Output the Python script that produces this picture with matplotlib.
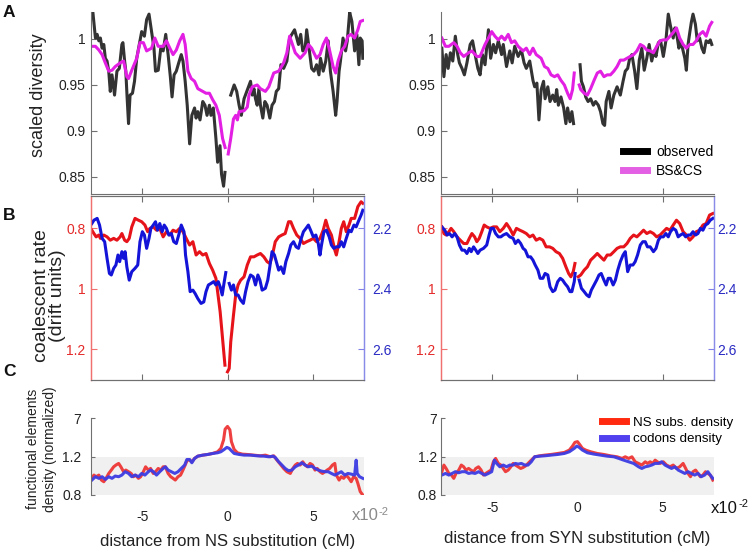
import numpy as np
import matplotlib.pyplot as plt
from matplotlib.lines import Line2D

plt.rcParams['font.family'] = ['Liberation Sans', 'DejaVu Sans']

nan = np.nan

# x = distance from substitution in units of 1e-2 cM; rows are (x, value)
# ---------------- A: scaled diversity ----------------
ns_observed = np.array([
    (-7.95, 1.029), (-7.89, 1.029), (-7.74, 1.001), (-7.64, 1.005), (-7.54, 0.998), (-7.45, 1.001),
    (-7.35, 0.990), (-7.25, 0.994), (-7.16, 0.979), (-7.06, 0.976), (-6.96, 0.965), (-6.87, 0.943),
    (-6.77, 0.961), (-6.62, 0.939), (-6.48, 0.965), (-6.34, 0.968), (-6.19, 0.994), (-6.13, 0.996),
    (-6.03, 0.976), (-5.96, 0.965), (-5.88, 0.935), (-5.80, 0.908), (-5.71, 0.939), (-5.57, 0.941),
    (-5.45, 0.954), (-5.32, 0.979), (-5.03, 1.008), (-4.87, 1.003), (-4.74, 1.021), (-4.60, 1.027),
    (-4.45, 1.008), (-4.31, 0.990), (-4.22, 0.965), (-4.06, 0.966), (-3.91, 0.990), (-3.77, 0.987),
    (-3.62, 1.005), (-3.48, 0.983), (-3.35, 0.959), (-3.25, 0.937), (-3.13, 0.961), (-3.00, 0.965),
    (-2.86, 0.974), (-2.71, 0.983), (-2.61, 0.976), (-2.48, 0.954), (-2.36, 0.928), (-2.22, 0.886),
    (-2.09, 0.917), (-1.93, 0.925), (-1.84, 0.914), (-1.74, 0.921), (-1.61, 0.912), (-1.45, 0.932),
    (-1.32, 0.928), (-1.20, 0.917), (-1.06, 0.928), (-0.97, 0.917), (-0.83, 0.925), (-0.68, 0.892),
    (-0.58, 0.866), (-0.44, 0.884), (-0.35, 0.853), (-0.23, 0.840), (-0.15, 0.855), (0.0, nan),
    (0.19, 0.939), (0.39, 0.950), (0.54, 0.943), (0.68, 0.928), (0.81, 0.917), (0.97, 0.935),
    (1.35, 0.954), (1.45, 0.939), (1.55, 0.946), (1.64, 0.935), (1.74, 0.928), (1.84, 0.946),
    (1.93, 0.928), (2.07, 0.914), (2.19, 0.932), (2.32, 0.928), (2.48, 0.914), (2.61, 0.928),
    (2.75, 0.932), (2.86, 0.943), (3.00, 0.946), (3.13, 0.972), (3.29, 0.968), (3.48, 0.976),
    (3.64, 1.001), (3.93, 1.010), (4.06, 1.001), (4.16, 0.994), (4.29, 1.005), (4.41, 0.987),
    (4.55, 0.990), (4.64, 1.010), (4.80, 0.987), (4.93, 0.968), (5.07, 0.965), (5.22, 0.972),
    (5.36, 0.961), (5.45, 0.979), (5.61, 0.965), (5.76, 0.976), (5.90, 0.998), (6.03, 0.965),
    (6.19, 0.943), (6.34, 0.917), (6.42, 0.932), (6.54, 0.965), (6.62, 0.976), (6.77, 1.001),
    (6.92, 0.987), (7.02, 0.998), (7.16, 1.029), (7.29, 1.019), (7.45, 0.987), (7.58, 1.005),
    (7.70, 0.972), (7.78, 1.001), (7.89, 0.998), (7.93, 0.979)])

ns_model = np.array([
    (-7.95, 0.992), (-7.74, 0.992), (-7.54, 0.988), (-7.35, 0.983), (-7.16, 0.974), (-6.96, 0.965),
    (-6.77, 0.966), (-6.58, 0.970), (-6.29, 0.974), (-6.09, 0.976), (-5.90, 0.959), (-5.80, 0.957),
    (-5.61, 0.966), (-5.32, 0.979), (-5.13, 0.996), (-4.93, 0.996), (-4.74, 0.987), (-4.45, 0.990),
    (-4.26, 1.001), (-4.06, 0.992), (-3.77, 0.992), (-3.58, 0.998), (-3.38, 0.990), (-3.19, 0.983),
    (-3.00, 0.988), (-2.80, 0.998), (-2.61, 1.005), (-2.48, 0.994), (-2.32, 0.965), (-2.13, 0.957),
    (-1.93, 0.954), (-1.74, 0.946), (-1.45, 0.943), (-1.26, 0.941), (-1.06, 0.941), (-0.87, 0.934),
    (-0.68, 0.928), (-0.48, 0.917), (-0.29, 0.892), (-0.14, 0.882), (0.0, nan), (0.04, 0.875),
    (0.19, 0.892), (0.35, 0.913), (0.48, 0.917), (0.58, 0.912), (0.68, 0.921), (0.97, 0.922),
    (1.16, 0.926), (1.26, 0.939), (1.45, 0.948), (1.74, 0.950), (1.93, 0.946), (2.22, 0.943),
    (2.42, 0.948), (2.71, 0.963), (3.00, 0.965), (3.29, 0.974), (3.48, 0.985), (3.64, 1.003),
    (3.77, 0.996), (3.97, 0.985), (4.26, 0.979), (4.55, 0.985), (4.74, 0.994), (4.93, 0.990),
    (5.22, 0.979), (5.42, 0.983), (5.61, 0.994), (5.80, 1.001), (5.99, 0.987), (6.19, 0.970),
    (6.34, 0.963), (6.48, 0.976), (6.67, 0.987), (6.87, 0.992), (7.06, 1.003), (7.25, 1.005),
    (7.45, 1.001), (7.64, 1.010), (7.78, 1.019), (7.93, 1.020)])

syn_observed = np.array([
    (-7.95, 0.990), (-7.83, 0.959), (-7.70, 0.983), (-7.58, 0.968), (-7.45, 0.985), (-7.31, 0.976),
    (-7.16, 1.003), (-7.02, 0.983), (-6.92, 0.974), (-6.77, 0.968), (-6.63, 0.961), (-6.48, 0.974),
    (-6.29, 0.994), (-6.15, 0.998), (-6.00, 0.983), (-5.84, 0.968), (-5.71, 0.961), (-5.57, 0.983),
    (-5.42, 0.972), (-5.22, 1.010), (-5.09, 0.979), (-4.93, 0.994), (-4.80, 0.985), (-4.64, 0.998),
    (-4.45, 0.983), (-4.35, 0.994), (-4.16, 0.970), (-3.97, 0.987), (-3.83, 0.974), (-3.68, 0.992),
    (-3.48, 0.981), (-3.29, 0.988), (-3.13, 0.974), (-3.00, 0.968), (-2.80, 0.976), (-2.61, 0.955),
    (-2.51, 0.948), (-2.38, 0.952), (-2.26, 0.912), (-2.13, 0.945), (-1.99, 0.954), (-1.90, 0.935),
    (-1.74, 0.948), (-1.61, 0.932), (-1.45, 0.939), (-1.32, 0.932), (-1.22, 0.945), (-1.12, 0.928),
    (-0.97, 0.937), (-0.81, 0.925), (-0.68, 0.908), (-0.58, 0.925), (-0.44, 0.910), (-0.33, 0.921),
    (-0.23, 0.908), (0.0, nan), (0.15, 0.972), (0.23, 0.954), (0.35, 0.948), (0.48, 0.937),
    (0.62, 0.932), (0.77, 0.935), (0.93, 0.928), (1.06, 0.932), (1.22, 0.928), (1.35, 0.921),
    (1.49, 0.908), (1.59, 0.906), (1.68, 0.932), (1.84, 0.943), (1.97, 0.925), (2.13, 0.939),
    (2.32, 0.948), (2.51, 0.939), (2.67, 0.954), (2.80, 0.965), (2.94, 0.968), (3.06, 0.979),
    (3.19, 0.983), (3.35, 0.965), (3.48, 0.946), (3.62, 0.977), (3.77, 0.990), (3.91, 0.966),
    (4.06, 0.979), (4.20, 0.994), (4.35, 0.976), (4.49, 0.987), (4.60, 0.981), (4.74, 0.996),
    (4.87, 0.998), (5.03, 0.981), (5.18, 0.998), (5.32, 1.027), (5.45, 1.014), (5.61, 1.001),
    (5.71, 1.012), (5.80, 1.007), (5.94, 0.990), (6.05, 0.998), (6.19, 0.987), (6.29, 0.979),
    (6.38, 0.966), (6.48, 0.994), (6.58, 1.007), (6.67, 1.018), (6.77, 1.027), (6.91, 1.016),
    (7.02, 0.998), (7.16, 1.001), (7.29, 0.990), (7.41, 0.985), (7.54, 0.998), (7.68, 0.996),
    (7.78, 0.999), (7.87, 0.994)])

syn_model = np.array([
    (-7.95, 1.001), (-7.74, 0.992), (-7.54, 0.992), (-7.25, 0.996), (-7.06, 0.992), (-6.87, 0.985),
    (-6.67, 0.981), (-6.38, 0.985), (-6.19, 0.987), (-5.90, 0.981), (-5.71, 0.981), (-5.42, 0.994),
    (-5.22, 1.001), (-5.03, 1.008), (-4.84, 1.003), (-4.64, 0.999), (-4.45, 1.003), (-4.26, 0.999),
    (-4.06, 1.005), (-3.87, 0.996), (-3.68, 0.998), (-3.48, 0.992), (-3.19, 0.987), (-3.00, 0.990),
    (-2.80, 0.983), (-2.61, 0.990), (-2.42, 0.983), (-2.13, 0.979), (-1.93, 0.970), (-1.74, 0.968),
    (-1.55, 0.961), (-1.35, 0.959), (-1.16, 0.961), (-0.97, 0.955), (-0.77, 0.950), (-0.58, 0.941),
    (-0.43, 0.935), (-0.29, 0.945), (-0.19, 0.963), (0.0, nan), (0.10, 0.950), (0.19, 0.945),
    (0.39, 0.941), (0.58, 0.939), (0.77, 0.946), (0.97, 0.955), (1.16, 0.963), (1.35, 0.965),
    (1.55, 0.959), (1.74, 0.961), (1.93, 0.961), (2.13, 0.965), (2.32, 0.970), (2.51, 0.977),
    (2.71, 0.977), (2.90, 0.979), (3.09, 0.981), (3.29, 0.983), (3.48, 0.987), (3.68, 0.994),
    (3.87, 0.992), (4.06, 0.988), (4.26, 0.987), (4.45, 0.985), (4.64, 0.992), (4.84, 0.998),
    (5.03, 0.999), (5.22, 0.999), (5.42, 1.003), (5.61, 1.007), (5.80, 1.012), (5.99, 1.001),
    (6.19, 0.994), (6.38, 0.990), (6.58, 0.994), (6.77, 0.994), (6.96, 0.998), (7.16, 1.005),
    (7.35, 1.008), (7.54, 1.003), (7.74, 1.014), (7.87, 1.018)])

# ---------------- B: coalescent rate (red, left axis) / second estimate (blue, right axis) ----------------
ns_rate_red = np.array([
    (-7.95, 0.807), (-7.83, 0.818), (-7.70, 0.829), (-7.54, 0.823), (-7.45, 0.834), (-7.25, 0.823),
    (-7.06, 0.829), (-6.87, 0.840), (-6.67, 0.834), (-6.48, 0.840), (-6.29, 0.829), (-6.19, 0.818),
    (-6.03, 0.840), (-5.90, 0.845), (-5.76, 0.834), (-5.61, 0.796), (-5.42, 0.768), (-5.22, 0.774),
    (-5.03, 0.779), (-4.84, 0.790), (-4.68, 0.812), (-4.55, 0.801), (-4.35, 0.796), (-4.16, 0.807),
    (-3.97, 0.801), (-3.77, 0.829), (-3.58, 0.812), (-3.38, 0.823), (-3.19, 0.807), (-3.00, 0.812),
    (-2.80, 0.801), (-2.61, 0.812), (-2.42, 0.834), (-2.22, 0.856), (-2.03, 0.845), (-1.84, 0.889),
    (-1.64, 0.878), (-1.45, 0.889), (-1.26, 0.884), (-1.06, 0.917), (-0.87, 0.939), (-0.68, 0.966),
    (-0.58, 1.010), (-0.43, 1.077), (-0.29, 1.165), (-0.15, 1.253), (-0.05, nan), (0.00, 1.275),
    (0.10, 1.264), (0.19, 1.176), (0.35, 1.088), (0.48, 1.021), (0.62, 0.988), (0.77, 0.972),
    (0.97, 0.961), (1.16, 0.922), (1.35, 0.895), (1.55, 0.895), (1.74, 0.889), (1.93, 0.884),
    (2.13, 0.895), (2.32, 0.911), (2.48, 0.917), (2.61, 0.895), (2.80, 0.845), (3.00, 0.829),
    (3.19, 0.823), (3.38, 0.818), (3.58, 0.779), (3.71, 0.779), (3.87, 0.801), (4.06, 0.823),
    (4.26, 0.834), (4.45, 0.851), (4.64, 0.845), (4.84, 0.840), (5.03, 0.834), (5.22, 0.845),
    (5.42, 0.834), (5.61, 0.807), (5.76, 0.774), (5.90, 0.801), (6.09, 0.823), (6.29, 0.873),
    (6.38, 0.889), (6.54, 0.845), (6.67, 0.801), (6.81, 0.779), (6.96, 0.812), (7.12, 0.790),
    (7.25, 0.768), (7.45, 0.768), (7.64, 0.729), (7.83, 0.713), (7.93, 0.718)])

ns_rate_blue = np.array([
    (-7.95, 2.185), (-7.83, 2.174), (-7.64, 2.168), (-7.50, 2.190), (-7.35, 2.234), (-7.20, 2.245),
    (-7.06, 2.300), (-6.92, 2.350), (-6.81, 2.355), (-6.67, 2.333), (-6.54, 2.322), (-6.42, 2.289),
    (-6.32, 2.311), (-6.19, 2.278), (-6.09, 2.300), (-6.00, 2.278), (-5.90, 2.328), (-5.76, 2.372),
    (-5.61, 2.344), (-5.42, 2.333), (-5.26, 2.322), (-5.13, 2.245), (-4.99, 2.212), (-4.87, 2.223),
    (-4.74, 2.267), (-4.60, 2.234), (-4.49, 2.201), (-4.35, 2.190), (-4.22, 2.179), (-4.10, 2.207),
    (-3.97, 2.185), (-3.83, 2.212), (-3.71, 2.190), (-3.58, 2.201), (-3.44, 2.223), (-3.29, 2.218),
    (-3.15, 2.245), (-3.00, 2.251), (-2.86, 2.223), (-2.71, 2.190), (-2.55, 2.212), (-2.46, 2.289),
    (-2.32, 2.344), (-2.19, 2.410), (-2.03, 2.405), (-1.90, 2.416), (-1.74, 2.433), (-1.55, 2.449),
    (-1.39, 2.444), (-1.26, 2.410), (-1.12, 2.388), (-0.97, 2.383), (-0.81, 2.377), (-0.68, 2.388),
    (-0.54, 2.377), (-0.43, 2.394), (-0.31, 2.421), (-0.19, 2.377), (-0.10, 2.347), (0.0, nan),
    (0.10, 2.383), (0.23, 2.405), (0.35, 2.388), (0.48, 2.421), (0.62, 2.421), (0.77, 2.438),
    (0.93, 2.449), (1.06, 2.410), (1.20, 2.377), (1.35, 2.355), (1.51, 2.361), (1.64, 2.388),
    (1.78, 2.355), (1.90, 2.372), (2.03, 2.405), (2.22, 2.399), (2.36, 2.372), (2.48, 2.328),
    (2.61, 2.278), (2.75, 2.289), (2.86, 2.311), (3.00, 2.339), (3.13, 2.328), (3.29, 2.350),
    (3.42, 2.311), (3.58, 2.284), (3.71, 2.256), (3.87, 2.245), (4.02, 2.262), (4.16, 2.267),
    (4.29, 2.240), (4.45, 2.212), (4.60, 2.201), (4.74, 2.190), (4.87, 2.207), (5.03, 2.229),
    (5.18, 2.223), (5.32, 2.251), (5.42, 2.289), (5.51, 2.256), (5.65, 2.212), (5.80, 2.207),
    (5.96, 2.229), (6.09, 2.256), (6.23, 2.267), (6.38, 2.262), (6.54, 2.262), (6.67, 2.245),
    (6.81, 2.262), (6.96, 2.234), (7.12, 2.207), (7.25, 2.212), (7.41, 2.190), (7.54, 2.196),
    (7.70, 2.174), (7.83, 2.157), (7.93, 2.141)])

syn_rate_red = np.array([
    (-7.95, 0.796), (-7.83, 0.818), (-7.70, 0.823), (-7.54, 0.812), (-7.41, 0.801), (-7.25, 0.812),
    (-7.06, 0.829), (-6.87, 0.840), (-6.67, 0.851), (-6.48, 0.851), (-6.34, 0.834), (-6.19, 0.818),
    (-6.03, 0.829), (-5.90, 0.845), (-5.76, 0.834), (-5.61, 0.812), (-5.47, 0.790), (-5.32, 0.796),
    (-5.13, 0.801), (-4.93, 0.796), (-4.74, 0.796), (-4.55, 0.812), (-4.35, 0.801), (-4.16, 0.785),
    (-3.97, 0.801), (-3.77, 0.823), (-3.58, 0.801), (-3.38, 0.807), (-3.19, 0.812), (-3.00, 0.818),
    (-2.80, 0.829), (-2.61, 0.823), (-2.42, 0.840), (-2.22, 0.834), (-2.03, 0.840), (-1.84, 0.862),
    (-1.64, 0.862), (-1.45, 0.867), (-1.26, 0.878), (-1.06, 0.884), (-0.87, 0.900), (-0.68, 0.928),
    (-0.52, 0.950), (-0.39, 0.961), (-0.25, 0.944), (-0.15, 0.917), (0.0, nan), (0.04, 0.961),
    (0.19, 0.955), (0.39, 0.939), (0.58, 0.928), (0.77, 0.906), (0.97, 0.895), (1.16, 0.884),
    (1.35, 0.895), (1.55, 0.906), (1.74, 0.889), (1.93, 0.889), (2.13, 0.878), (2.32, 0.867),
    (2.51, 0.862), (2.71, 0.862), (2.90, 0.851), (3.09, 0.834), (3.29, 0.823), (3.48, 0.829),
    (3.68, 0.818), (3.87, 0.807), (4.06, 0.818), (4.26, 0.812), (4.45, 0.818), (4.64, 0.829),
    (4.84, 0.823), (5.03, 0.812), (5.22, 0.801), (5.42, 0.807), (5.61, 0.790), (5.80, 0.774),
    (5.99, 0.785), (6.19, 0.812), (6.38, 0.823), (6.58, 0.840), (6.77, 0.829), (6.96, 0.812),
    (7.16, 0.807), (7.35, 0.790), (7.54, 0.785), (7.74, 0.757), (7.93, 0.752)])

syn_rate_blue = np.array([
    (-7.95, 2.196), (-7.78, 2.207), (-7.64, 2.223), (-7.50, 2.218), (-7.35, 2.229), (-7.20, 2.218),
    (-7.06, 2.229), (-6.92, 2.256), (-6.77, 2.273), (-6.62, 2.273), (-6.48, 2.284), (-6.34, 2.267),
    (-6.23, 2.278), (-6.09, 2.262), (-5.96, 2.273), (-5.84, 2.284), (-5.71, 2.273), (-5.51, 2.267),
    (-5.32, 2.256), (-5.18, 2.223), (-5.07, 2.201), (-4.93, 2.201), (-4.80, 2.218), (-4.64, 2.229),
    (-4.49, 2.229), (-4.35, 2.223), (-4.16, 2.218), (-3.97, 2.229), (-3.77, 2.234), (-3.64, 2.251),
    (-3.48, 2.240), (-3.33, 2.251), (-3.19, 2.267), (-3.06, 2.273), (-2.90, 2.295), (-2.75, 2.295),
    (-2.61, 2.306), (-2.48, 2.322), (-2.32, 2.339), (-2.19, 2.366), (-2.03, 2.366), (-1.90, 2.350),
    (-1.74, 2.355), (-1.61, 2.394), (-1.45, 2.410), (-1.32, 2.405), (-1.16, 2.377), (-1.01, 2.366),
    (-0.87, 2.372), (-0.74, 2.383), (-0.58, 2.394), (-0.44, 2.410), (-0.33, 2.410), (-0.19, 2.377),
    (-0.14, 2.350), (0.0, nan), (0.10, 2.372), (0.23, 2.399), (0.39, 2.410), (0.54, 2.421),
    (0.68, 2.427), (0.81, 2.405), (0.97, 2.388), (1.12, 2.372), (1.26, 2.355), (1.39, 2.350),
    (1.55, 2.372), (1.68, 2.388), (1.80, 2.366), (1.93, 2.366), (2.09, 2.388), (2.22, 2.372),
    (2.36, 2.339), (2.51, 2.311), (2.67, 2.289), (2.80, 2.278), (2.94, 2.344), (3.09, 2.322),
    (3.25, 2.322), (3.38, 2.311), (3.52, 2.289), (3.68, 2.256), (3.83, 2.245), (3.97, 2.245),
    (4.10, 2.262), (4.26, 2.262), (4.45, 2.278), (4.60, 2.267), (4.74, 2.240), (4.87, 2.229),
    (5.03, 2.229), (5.18, 2.218), (5.32, 2.229), (5.45, 2.212), (5.61, 2.201), (5.76, 2.207),
    (5.90, 2.229), (6.03, 2.223), (6.19, 2.218), (6.34, 2.229), (6.48, 2.223), (6.62, 2.223),
    (6.77, 2.212), (6.92, 2.223), (7.06, 2.218), (7.20, 2.201), (7.35, 2.207), (7.50, 2.190),
    (7.64, 2.185), (7.78, 2.174), (7.93, 2.168)])

# ---------------- C: functional elements density (normalized) ----------------
ns_subs_density = np.array([
    (-7.95, 0.973), (-7.83, 1.007), (-7.70, 0.990), (-7.54, 1.007), (-7.39, 0.955), (-7.25, 0.938),
    (-7.12, 0.973), (-6.96, 1.024), (-6.81, 1.059), (-6.67, 1.093), (-6.54, 1.111), (-6.38, 1.128),
    (-6.25, 1.093), (-6.09, 1.042), (-5.96, 1.059), (-5.80, 1.042), (-5.65, 1.024), (-5.51, 0.990),
    (-5.38, 1.007), (-5.22, 0.973), (-5.09, 0.990), (-4.93, 1.042), (-4.80, 1.093), (-4.64, 1.059),
    (-4.51, 1.076), (-4.35, 1.024), (-4.22, 1.042), (-4.06, 1.076), (-3.91, 1.059), (-3.77, 1.093),
    (-3.64, 1.093), (-3.48, 1.024), (-3.33, 0.990), (-3.19, 0.973), (-3.06, 0.955), (-2.90, 0.990),
    (-2.75, 1.007), (-2.61, 1.059), (-2.48, 1.111), (-2.36, 1.162), (-2.22, 1.162), (-2.09, 1.145),
    (-1.93, 1.180), (-1.74, 1.219), (-1.45, 1.277), (-1.16, 1.317), (-0.87, 1.379), (-0.58, 1.490),
    (-0.39, 1.740), (-0.23, 2.563), (-0.14, 4.201), (0.00, 4.757), (0.14, 4.072), (0.23, 2.370),
    (0.39, 1.660), (0.58, 1.423), (0.87, 1.337), (1.16, 1.317), (1.55, 1.277), (1.93, 1.238),
    (2.22, 1.277), (2.51, 1.197), (2.71, 1.238), (2.90, 1.162), (3.09, 1.121), (3.29, 1.076),
    (3.48, 1.042), (3.68, 1.024), (3.83, 1.076), (3.97, 1.111), (4.10, 1.128), (4.26, 1.111),
    (4.41, 1.145), (4.55, 1.111), (4.68, 1.093), (4.84, 1.128), (4.99, 1.111), (5.13, 1.059),
    (5.26, 1.076), (5.42, 1.042), (5.57, 1.024), (5.71, 1.042), (5.84, 1.059), (5.99, 1.076),
    (6.15, 1.111), (6.29, 1.128), (6.38, 1.007), (6.54, 0.955), (6.67, 0.990), (6.81, 0.973),
    (6.96, 1.007), (7.12, 0.973), (7.25, 0.938), (7.39, 0.990), (7.54, 0.973), (7.64, 0.921),
    (7.78, 0.835), (7.93, 0.800)])

ns_codon_density = np.array([
    (-7.95, 0.955), (-7.74, 0.990), (-7.54, 0.973), (-7.35, 0.990), (-7.16, 0.962), (-6.96, 0.990),
    (-6.77, 0.973), (-6.58, 0.997), (-6.38, 0.990), (-6.19, 1.007), (-6.00, 1.042), (-5.80, 1.024),
    (-5.61, 0.990), (-5.42, 1.007), (-5.22, 0.990), (-5.03, 1.024), (-4.84, 1.007), (-4.64, 1.042),
    (-4.49, 1.059), (-4.35, 1.042), (-4.16, 1.007), (-3.97, 1.042), (-3.77, 1.076), (-3.64, 1.093),
    (-3.48, 1.059), (-3.29, 1.042), (-3.09, 1.024), (-2.90, 1.042), (-2.71, 1.076), (-2.51, 1.111),
    (-2.38, 1.169), (-2.22, 1.169), (-2.09, 1.135), (-1.93, 1.180), (-1.74, 1.219), (-1.45, 1.277),
    (-1.16, 1.317), (-0.87, 1.379), (-0.58, 1.423), (-0.39, 1.490), (-0.19, 1.660), (-0.04, 1.822),
    (0.10, 1.740), (0.23, 1.561), (0.39, 1.379), (0.68, 1.317), (0.97, 1.277), (1.35, 1.277),
    (1.74, 1.238), (2.13, 1.219), (2.42, 1.197), (2.67, 1.219), (2.80, 1.190), (3.00, 1.145),
    (3.19, 1.111), (3.38, 1.076), (3.58, 1.052), (3.77, 1.059), (3.97, 1.093), (4.16, 1.111),
    (4.35, 1.135), (4.55, 1.111), (4.74, 1.093), (4.93, 1.100), (5.13, 1.076), (5.32, 1.059),
    (5.51, 1.048), (5.71, 1.042), (5.90, 1.042), (6.09, 1.024), (6.29, 1.007), (6.48, 1.024),
    (6.67, 1.042), (6.87, 1.007), (7.06, 1.024), (7.25, 1.017), (7.45, 1.007), (7.54, 1.162),
    (7.60, 1.024), (7.74, 0.990), (7.93, 0.973)])

syn_subs_density = np.array([
    (-7.95, 1.042), (-7.83, 1.111), (-7.70, 1.076), (-7.54, 1.024), (-7.39, 1.007), (-7.25, 0.973),
    (-7.12, 1.024), (-6.96, 1.059), (-6.81, 1.111), (-6.67, 1.093), (-6.54, 1.059), (-6.38, 1.076),
    (-6.25, 1.059), (-6.09, 1.042), (-5.96, 1.076), (-5.80, 1.093), (-5.65, 1.059), (-5.51, 1.007),
    (-5.38, 1.024), (-5.22, 1.042), (-5.07, 1.059), (-4.93, 1.145), (-4.80, 1.180), (-4.64, 1.128),
    (-4.49, 1.111), (-4.35, 1.076), (-4.22, 1.042), (-4.06, 1.059), (-3.91, 1.093), (-3.77, 1.128),
    (-3.64, 1.111), (-3.48, 1.093), (-3.33, 1.076), (-3.19, 1.086), (-3.06, 1.100), (-2.90, 1.128),
    (-2.71, 1.162), (-2.51, 1.197), (-2.22, 1.238), (-1.93, 1.277), (-1.55, 1.317), (-1.16, 1.379),
    (-0.77, 1.445), (-0.48, 1.610), (-0.29, 1.938), (-0.15, 2.298), (0.00, 2.370), (0.15, 2.031),
    (0.29, 1.740), (0.48, 1.610), (0.77, 1.490), (1.16, 1.379), (1.55, 1.317), (1.93, 1.238),
    (2.32, 1.197), (2.61, 1.180), (2.80, 1.197), (3.00, 1.180), (3.19, 1.197), (3.38, 1.145),
    (3.58, 1.128), (3.77, 1.111), (3.97, 1.145), (4.10, 1.128), (4.26, 1.145), (4.41, 1.128),
    (4.55, 1.162), (4.68, 1.145), (4.84, 1.128), (5.03, 1.145), (5.22, 1.111), (5.42, 1.093),
    (5.61, 1.111), (5.80, 1.076), (5.99, 1.093), (6.19, 1.128), (6.34, 1.076), (6.48, 1.024),
    (6.62, 0.990), (6.77, 1.042), (6.92, 1.059), (7.06, 1.024), (7.20, 0.990), (7.35, 1.007),
    (7.50, 1.042), (7.64, 1.024), (7.78, 1.007), (7.93, 0.955)])

syn_codon_density = np.array([
    (-7.95, 1.007), (-7.74, 1.024), (-7.54, 1.007), (-7.35, 1.024), (-7.16, 1.042), (-6.96, 1.031),
    (-6.77, 1.042), (-6.58, 1.042), (-6.38, 1.024), (-6.19, 1.031), (-6.00, 1.024), (-5.80, 1.042),
    (-5.61, 1.024), (-5.42, 1.007), (-5.22, 1.024), (-5.03, 1.042), (-4.87, 1.162), (-4.74, 1.128),
    (-4.55, 1.093), (-4.35, 1.111), (-4.16, 1.093), (-3.97, 1.111), (-3.77, 1.111), (-3.64, 1.128),
    (-3.48, 1.121), (-3.29, 1.128), (-3.09, 1.111), (-2.90, 1.111), (-2.71, 1.145), (-2.51, 1.197),
    (-2.22, 1.219), (-1.93, 1.238), (-1.55, 1.277), (-1.16, 1.317), (-0.77, 1.379), (-0.48, 1.490),
    (-0.19, 1.740), (-0.04, 1.938), (0.10, 1.822), (0.29, 1.610), (0.58, 1.423), (0.97, 1.337),
    (1.35, 1.277), (1.74, 1.219), (2.13, 1.197), (2.42, 1.180), (2.71, 1.162), (3.00, 1.145),
    (3.29, 1.128), (3.58, 1.093), (3.77, 1.076), (3.97, 1.093), (4.16, 1.100), (4.35, 1.111),
    (4.55, 1.128), (4.74, 1.128), (4.93, 1.145), (5.13, 1.111), (5.32, 1.093), (5.51, 1.076),
    (5.71, 1.093), (5.90, 1.059), (6.09, 1.042), (6.29, 1.024), (6.48, 1.042), (6.67, 1.024),
    (6.87, 1.007), (7.06, 1.024), (7.25, 0.990), (7.45, 1.007), (7.64, 1.042), (7.78, 1.007),
    (7.93, 0.973)])

xticks = [-5, 0, 5]
div_ticks = [0.85, 0.9, 0.95, 1.0]
div_labels = ['0.85', '0.9', '0.95', '1']
rate_ticks = [0.8, 1.0, 1.2]
rate_labels = ['0.8', '1', '1.2']
rate2_ticks = [2.2, 2.4, 2.6]
rate2_labels = ['2.2', '2.4', '2.6']
dens_ticks = [0.8, 1.2, 7]
dens_labels = ['0.8', '1.2', '7']

BLACK = '#333333'
MAGENTA = '#e21fe2'
RED = '#e6141a'
BLUE = '#1414d8'
C_RED = '#ee3535'
C_BLUE = '#3c3ce4'
SPINE = '#707070'
TXT = '#222222'

W, H = 749, 551
fig = plt.figure(figsize=(W / 100, H / 100), dpi=100)


def rect(l, t, r, b):
    return [l / W, 1 - b / H, (r - l) / W, (b - t) / H]


# piecewise scale for panel C: linear up to 1.2, compressed (log) above
LK = np.log(7 / 1.2)


def dens_fwd(y):
    y = np.asarray(y, dtype=float)
    with np.errstate(all='ignore'):
        return np.where(y > 1.2, 1.2 + 0.4 * np.log(np.abs(y) / 1.2) / LK, y)


def dens_inv(t):
    t = np.asarray(t, dtype=float)
    with np.errstate(all='ignore'):
        return np.where(t > 1.2, 1.2 * np.exp(np.clip(t - 1.2, 0, 50) * LK / 0.4), t)


def style_x(ax):
    ax.set_xlim(-8, 8)
    ax.set_xticks(xticks)
    ax.tick_params(axis='x', direction='in', length=4, width=0.8, color=SPINE,
                   labelbottom=False)


def diversity_panel(ax, obs, model, ylabel=None, legend=False):
    ax.plot(obs[:, 0], obs[:, 1], color=BLACK, lw=2.2)
    ax.plot(model[:, 0], model[:, 1], color=MAGENTA, lw=2.2)
    style_x(ax)
    ax.set_ylim(0.8315, 1.0293)
    ax.set_yticks(div_ticks, div_labels)
    ax.tick_params(axis='y', direction='in', length=4, width=0.8, color=SPINE,
                   labelsize=10, labelcolor=TXT, pad=4)
    for s in ['top', 'right']:
        ax.spines[s].set_visible(False)
    for s in ['left', 'bottom']:
        ax.spines[s].set_color(SPINE)
        ax.spines[s].set_linewidth(0.8)
    if ylabel:
        ax.set_ylabel(ylabel, fontsize=13, color=TXT)
        ax.yaxis.set_label_coords(-0.16, 0.545)
    if legend:
        handles = [Line2D([], [], color='black', lw=5),
                   Line2D([], [], color='#e35fe3', lw=5)]
        ax.legend(handles, ['observed', 'BS&CS'], loc='center left',
                  bbox_to_anchor=(0.665, 0.18), frameon=False, fontsize=10,
                  handlelength=1.75, handletextpad=0.65, labelspacing=0.35,
                  borderpad=0, borderaxespad=0)


def rate_panel(ax, red, blue, ylabel=None, lpad=4, rpad=4):
    ax.plot(red[:, 0], red[:, 1], color=RED, lw=2.2)
    style_x(ax)
    ax.tick_params(axis='x', top=True)
    ax.set_ylim(1.302, 0.694)
    ax.set_yticks(rate_ticks, rate_labels)
    ax.tick_params(axis='y', direction='in', length=4, width=0.8, color='#f07070',
                   labelsize=10, labelcolor='#e42a2a', pad=lpad)
    ax2 = ax.twinx()
    ax2.plot(blue[:, 0], blue[:, 1], color=BLUE, lw=2.2)
    ax2.set_ylim(2.702, 2.094)
    ax2.set_yticks(rate2_ticks, rate2_labels)
    ax2.tick_params(axis='y', direction='in', length=4, width=0.8, color='#8080e8',
                    labelsize=10, labelcolor='#2a2ac4', pad=rpad)
    for a in (ax, ax2):
        a.spines['top'].set_color(SPINE)
        a.spines['bottom'].set_color(SPINE)
        a.spines['top'].set_linewidth(0.8)
        a.spines['bottom'].set_linewidth(0.8)
        a.spines['left'].set_color('#f07070')
        a.spines['right'].set_color('#8a8ae8')
        a.spines['left'].set_linewidth(0.9)
        a.spines['right'].set_linewidth(0.9)
    if ylabel:
        ax.set_ylabel(ylabel, fontsize=14, color=TXT, linespacing=0.95)
        ax.yaxis.set_label_coords(-0.09, 0.46)


def density_panel(ax, subs, codons, xlabel, ylabel=None, legend=False, ypad=4,
                  tick_pad=10, exp_x=0.96, exp_y=-0.27, exp_color='#8a8a8a', xlab_y=-0.6):
    ax.set_yscale('function', functions=(dens_fwd, dens_inv))
    ax.axhspan(0.8, 1.2, color='#f0f0f0', lw=0, zorder=0)
    ax.plot(subs[:, 0], subs[:, 1], color=C_RED, lw=2.2, alpha=0.95)
    ax.plot(codons[:, 0], codons[:, 1], color=C_BLUE, lw=2.2, alpha=0.95)
    ax.set_xlim(-8, 8)
    ax.set_xticks(xticks, ['-5', '0', '5'])
    ax.tick_params(axis='x', length=0, labelsize=10, labelcolor=TXT, pad=tick_pad)
    ax.set_ylim(0.8, 7)
    ax.set_yticks(dens_ticks, dens_labels)
    ax.minorticks_off()
    ax.tick_params(axis='y', direction='in', length=3, width=0.8, color=SPINE,
                   labelsize=10, labelcolor=TXT, pad=ypad)
    for s in ['top', 'right', 'bottom']:
        ax.spines[s].set_visible(False)
    ax.spines['left'].set_color(SPINE)
    ax.spines['left'].set_linewidth(0.8)
    # exponent of the x axis
    base = ax.text(exp_x, exp_y, 'x10', transform=ax.transAxes, ha='left',
                   va='center', fontsize=12, color=exp_color)
    ax.annotate('-2', xy=(1, 0.75), xycoords=base, ha='left', va='center',
                fontsize=8, color=exp_color)
    ax.set_xlabel(xlabel, fontsize=12, color=TXT, va='center')
    ax.xaxis.set_label_coords(0.5, xlab_y)
    if ylabel:
        ax.set_ylabel(ylabel, fontsize=10, color=TXT, linespacing=1.25)
        ax.yaxis.set_label_coords(-0.125, 0.6)
    if legend:
        handles = [Line2D([], [], color='#ff2a10', lw=5),
                   Line2D([], [], color='#5040ee', lw=5)]
        ax.legend(handles, ['NS subs. density', 'codons density'], loc='center left',
                  bbox_to_anchor=(0.59, 0.83), frameon=False, fontsize=9.6,
                  handlelength=1.8, handletextpad=0.5, labelspacing=0.3,
                  borderpad=0, borderaxespad=0)


axA1 = fig.add_axes(rect(91, 12, 364, 194))
axA2 = fig.add_axes(rect(441, 12, 714, 194))
axB1 = fig.add_axes(rect(91, 196, 364, 380))
axB2 = fig.add_axes(rect(441, 196, 714, 380))
axC1 = fig.add_axes(rect(91, 418, 364, 495))
axC2 = fig.add_axes(rect(441, 418, 714, 495))

diversity_panel(axA1, ns_observed, ns_model, ylabel='scaled diversity')
diversity_panel(axA2, syn_observed, syn_model, legend=True)

rate_panel(axB1, ns_rate_red, ns_rate_blue, ylabel='coalescent rate\n(drift units)',
           lpad=4, rpad=6)
rate_panel(axB2, syn_rate_red, syn_rate_blue, lpad=4, rpad=2)

density_panel(axC1, ns_subs_density, ns_codon_density,
              'distance from NS substitution (cM)',
              ylabel='functional elements\ndensity (normalized)', ypad=7,
              tick_pad=11, exp_x=0.955, exp_y=-0.27, exp_color='#8a8a8a', xlab_y=-0.6)
density_panel(axC2, syn_subs_density, syn_codon_density,
              'distance from SYN substitution (cM)', legend=True, ypad=3,
              tick_pad=4, exp_x=0.99, exp_y=-0.17, exp_color='#111111', xlab_y=-0.56)

for letter, y in [('A', 12.5), ('B', 216), ('C', 371)]:
    fig.text(3 / W, 1 - y / H, letter, fontsize=12.5, fontweight='bold',
             ha='left', va='center', color='#111111')

fig.savefig('out.png', dpi=100)
